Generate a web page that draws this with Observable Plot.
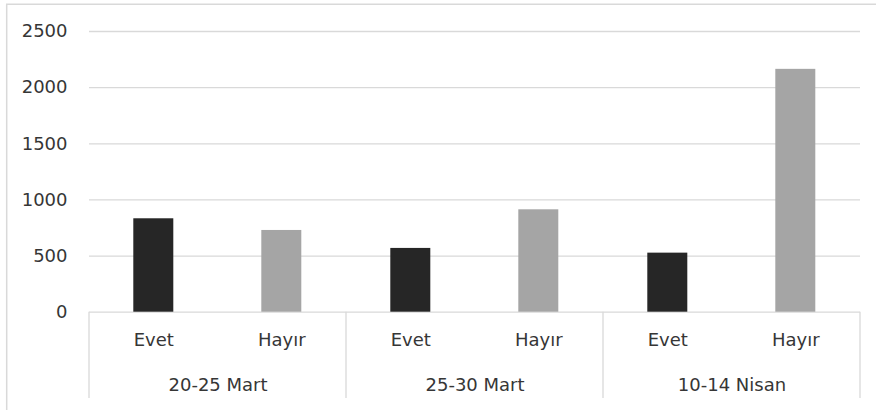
<!DOCTYPE html>
<html>
<head>
<meta charset="utf-8">
<script src="https://cdn.jsdelivr.net/npm/d3@7"></script>
<script src="https://cdn.jsdelivr.net/npm/@observablehq/plot@0.6"></script>
<style>
  html, body { margin: 0; padding: 0; background: #fff; }
  #chart { width: 876px; height: 410px; overflow: hidden; }
</style>
</head>
<body>
<div id="chart"></div>
<script>
// Survey periods and answers
const periods = ["20-25 Mart", "25-30 Mart", "10-14 Nisan"];
const answers = ["Evet", "Hayır"];
// Counts per period, in answer order
const evet  = [832, 568, 526];
const hayir = [728, 912, 2163];
const yTicks = [0, 500, 1000, 1500, 2000, 2500];

const colors = {"Evet": "#262626", "Hayır": "#a5a5a5"};
const rows = periods.flatMap((p, i) => [
  {period: p, answer: "Evet", value: evet[i]},
  {period: p, answer: "Hayır", value: hayir[i]}
]);

const grid = "#d9d9d9";
const ink = "#363636";

const plot = Plot.plot({
  width: 876,
  height: 410,
  marginLeft: 88.7,
  marginRight: 15,
  marginTop: 31,
  marginBottom: 98.3,
  style: {fontFamily: "DejaVu Sans", fontSize: "18px", color: ink, background: "#fff"},
  fx: {domain: periods, padding: 0, axis: null},
  x: {domain: answers, paddingInner: 0.689, paddingOuter: 0.345, axis: null},
  y: {domain: [0, 2500], axis: null},
  marks: [
    Plot.gridY(yTicks, {stroke: grid, strokeOpacity: 1, strokeWidth: 1.3}),
    Plot.barY(rows, {fx: "period", x: "answer", y: "value", fill: d => colors[d.answer]}),
    Plot.axisY(yTicks, {tickSize: 0, tickPadding: 22, label: null, tickFormat: d => String(d),
                        fill: ink, fontSize: 18}),
    Plot.text(rows, {fx: "period", x: "answer", text: "answer", frameAnchor: "bottom",
                     dy: 28, lineAnchor: "middle", fill: ink}),
    Plot.text(periods, {fx: d => d, text: d => d, frameAnchor: "bottom",
                        dy: 73, lineAnchor: "middle", fill: ink})
  ]
});

// Category separators below the baseline, placed on the facet band edges
const fx = plot.scale("fx");
const y = plot.scale("y");
const y0 = y.apply(0);
const edges = periods.map(p => fx.apply(p)).concat([fx.apply(periods[periods.length - 1]) + fx.bandwidth]);
const svg = d3.select(plot);
svg.append("g")
  .attr("stroke", grid)
  .attr("stroke-width", 1.3)
  .selectAll("line")
  .data(edges)
  .join("line")
  .attr("x1", d => d).attr("x2", d => d)
  .attr("y1", y0).attr("y2", y0 + 86.3);

// Chart area border (top and left edges)
svg.append("path")
  .attr("fill", "none")
  .attr("stroke", grid)
  .attr("stroke-width", 1.5)
  .attr("d", "M6.7,412V4.2H878");

document.getElementById("chart").appendChild(plot);
</script>
</body>
</html>
